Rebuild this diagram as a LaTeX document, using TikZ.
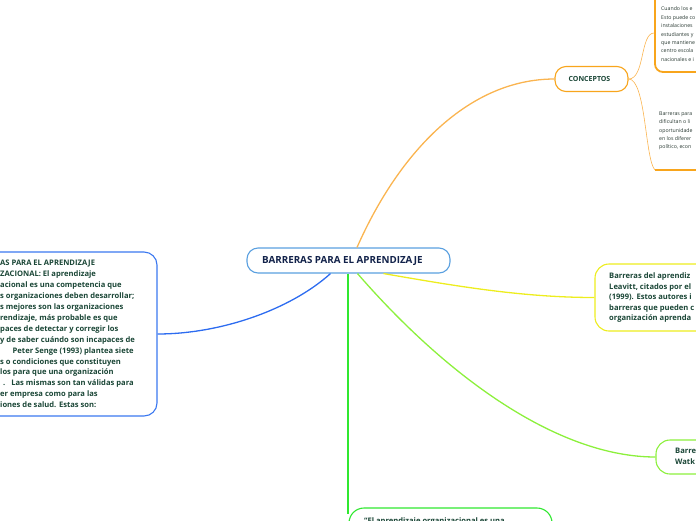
\documentclass[tikz,border=0pt]{standalone}
\usepackage{fontspec}
\setmainfont{Open Sans}
\definecolor{txtgreen}{HTML}{1A4636}
\definecolor{navy}{HTML}{12224A}
\definecolor{bluecon}{HTML}{2D6CF0}
\definecolor{blueleft}{HTML}{3B78F0}
\definecolor{bluecen}{HTML}{5AA0E0}
\definecolor{orangeb}{HTML}{F8A51C}
\definecolor{orangec}{HTML}{FAB450}
\definecolor{yelw}{HTML}{EDED1E}
\definecolor{limec}{HTML}{8CF03C}
\definecolor{greenc}{HTML}{30E830}
\definecolor{smalltxt}{HTML}{2A3A33}
\begin{document}
\begin{tikzpicture}[x=1pt,y=-1pt,
  boxst/.style={draw, fill=white, inner sep=0pt, line width=1.1pt},
  txtst/.style={anchor=north west, inner sep=0pt, align=left, text=txtgreen},
  bigtxt/.style={txtst, font=\fontsize{7.6}{10.93}\selectfont\bfseries},
  smalltx/.style={anchor=north west, inner sep=0pt, align=left, text=smalltxt, font=\fontsize{5.2}{8.4}\selectfont},
  conn/.style={line width=1.3pt}
]
\useasboundingbox (0,0) rectangle (696,520);
\clip (0,0) rectangle (696,520);

% boxes
\node[boxst, draw=bluecen, rounded corners=11pt, minimum width=203pt, minimum height=25pt] (central) at (348.5,260.5) {};
\node[boxst, draw=blueleft, rounded corners=13pt, minimum width=217pt, minimum height=164pt] (leftbox) at (48.5,334) {};
\node[boxst, draw=orangeb, rounded corners=11pt, minimum width=73pt, minimum height=25pt] (concepts) at (591.5,79) {};
\node[boxst, draw=orangeb, rounded corners=8pt, line width=1.8pt, minimum width=105pt, minimum height=92pt] (topbox) at (707.5,26) {};
\node[boxst, draw=yelw, rounded corners=14pt, minimum width=165pt, minimum height=67pt] (yellowbox) at (677.5,297.5) {};
\node[boxst, draw=limec, rounded corners=14pt, minimum width=74pt, minimum height=34pt] (watk) at (693,457) {};
\node[boxst, draw=greenc, rounded corners=15pt, minimum width=203pt, minimum height=40pt] (bottom) at (450.5,528) {};
\coordinate (u2) at (655,170);
\coordinate (u2end) at (700,170);

% connectors
\draw[conn, draw=orangec] ([xshift=8.5pt]central.north) .. controls (400,150) and (470,79) .. (concepts.west);
\draw[conn, draw=bluecon] ([xshift=-18pt]central.south) .. controls (290,310) and (220,334) .. (leftbox.east);
\draw[conn, draw=yelw] ([xshift=35pt]central.south) .. controls (450,285) and (520,297.5) .. (yellowbox.west);
\draw[conn, draw=limec] ([xshift=9pt]central.south) .. controls (450,380) and (560,457) .. (watk.west);
\draw[conn, draw=greenc] ([xshift=-0.5pt]central.south) -- (348,514);
\draw[line width=0.6pt, draw=orangec] (concepts.east) .. controls (645,79) and (640,33) .. ([yshift=-7pt]topbox.west);
\draw[line width=0.6pt, draw=orangec] (concepts.east) .. controls (646,79) and (645,160) .. (u2);
\draw[line width=1.8pt, draw=orangeb] (u2) -- (u2end);

% texts
\node[anchor=west, inner sep=0pt, text=navy, font=\fontsize{9.8}{11}\selectfont\bfseries] (centraltxt) at (262,260.5) {BARRERAS PARA EL APRENDIZAJE};
\node[anchor=center, inner sep=0pt, text=txtgreen, font=\fontsize{7}{8}\selectfont\bfseries] (conctxt) at (589.5,79) {CONCEPTOS};
\node[bigtxt] (lefttxt) at (0,257.8) {\strut AS PARA EL APRENDIZAJE\\
ZACIONAL: El aprendizaje\\
acional es una competencia que\\
s organizaciones deben desarrollar;\\
s mejores son las organizaciones\\
rendizaje, más probable es que\\
paces de detectar y corregir los\\
y de saber cuándo son incapaces de\\
\strut\\
s o condiciones que constituyen\\
los para que una organización\\
\strut\\
er empresa como para las\\
iones de salud. Estas son:};
\node[bigtxt] (lefttxt9) at (12.5,345.24) {\strut Peter Senge (1993) plantea siete};
\node[bigtxt] (lefttxt12) at (3,378.03) {\strut .\kern6pt Las mismas son tan válidas para};
\node[txtst, font=\fontsize{7.6}{10.5}\selectfont\bfseries] (yeltxt) at (609,271) {\strut Barreras del aprendiz\\
Leavitt, citados por el\\
(1999). Estos autores i\\
barreras que pueden c\\
organización aprenda};
\node[txtst, font=\fontsize{7.6}{11}\selectfont\bfseries] (watktxt) at (675,445.7) {\strut Barre\\Watk};
\node[txtst, font=\fontsize{7.6}{10}\selectfont\bfseries] (bottxt) at (364,516) {\strut “El aprendizaje organizacional es una};
\node[smalltx] (toptxt) at (661,4.8) {\strut Cuando los e\\
Esto puede co\\
instalaciones\\
estudiantes y\\
que mantiene\\
centro escola\\
nacionales e i};
\node[smalltx, font=\fontsize{5.2}{8.1}\selectfont] (sectxt) at (659,110) {\strut Barreras para\\
dificultan o li\\
oportunidade\\
en los diferer\\
político, econ};
\end{tikzpicture}
\end{document}
